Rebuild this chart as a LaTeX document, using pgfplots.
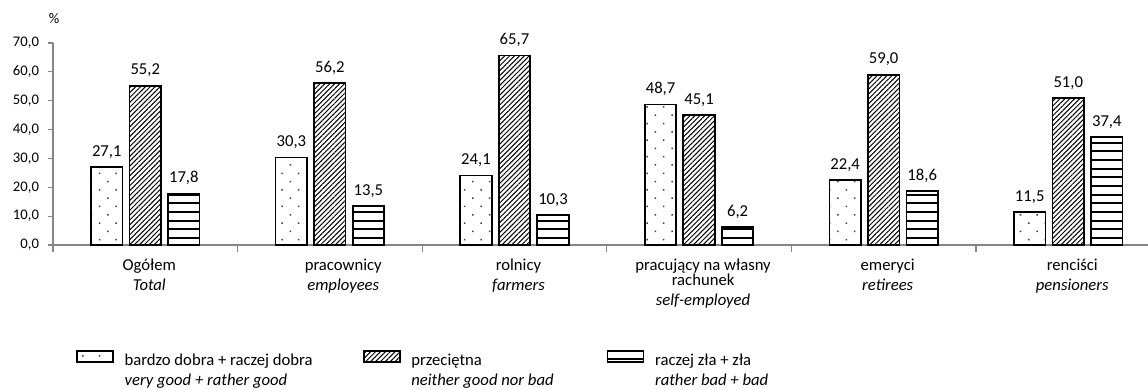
\documentclass[border=0pt]{standalone}
\usepackage{fontspec}
\setmainfont{Carlito}
\usepackage{pgfplots}
\pgfplotsset{compat=1.18}
\usetikzlibrary{patterns.meta}
\definecolor{axgray}{HTML}{868686}
\pgfdeclarepatternformonly{hthick}{\pgfpoint{-1pt}{0pt}}{\pgfpoint{201pt}{6.5pt}}{\pgfpoint{200pt}{6.5pt}}%
  {\pgfpathrectangle{\pgfpoint{-1pt}{2pt}}{\pgfpoint{202pt}{1.6pt}}\pgfusepath{fill}}
\newcommand\legtext[3]{\makebox[#1][l]{\begin{tabular}[t]{@{}l@{}}#2\\\textit{#3}\end{tabular}}}
\pgfplotsset{mylegend/.style={legend image code/.code={\draw[##1, bar shift=0pt] (0pt,-2pt) rectangle (27pt,6.25pt);}}}

\begin{document}
\begin{tikzpicture}
\path[use as bounding box] (-39.75pt,-108pt) rectangle (821.25pt,183.75pt);
\begin{axis}[
  at={(0,0)}, anchor=south west,
  scale only axis, width=821.25pt, height=151.5pt,
  xmin=-0.5, xmax=5.432, ymin=0, ymax=70,
  axis x line=bottom, axis y line=left,
  axis line style={axgray, -, line width=0.8pt},
  ybar, bar width=23.6pt,
  xtick={0,...,5},
  xticklabels={
    {Ogółem\\[3.5pt]\textit{Total}},
    {\hspace*{14pt}pracownicy\\[3.5pt]\hspace*{14pt}\textit{employees}},
    {rolnicy\\[3.5pt]\textit{farmers}},
    {pracujący na własny\\rachunek\\[3.5pt]\textit{self-employed}},
    {emeryci\\[3.5pt]\textit{retirees}},
    {renciści\\[3.5pt]\textit{pensioners}}},
  xticklabel style={align=center, anchor=north, font=\fontsize{12.5}{11.25}\selectfont, yshift=-3pt, xshift=3pt},
  major x tick style={draw=none},
  minor xtick={-0.5,0.5,...,4.5},
  minor x tick style={axgray, line width=0.8pt},
  tick align=outside,
  minor tick length=5pt,
  major tick length=4pt,
  ytick={0,10,...,70},
  y tick style={axgray, line width=0.8pt},
  yticklabel style={font=\fontsize{11}{13}\selectfont, xshift=-3pt},
  /pgf/number format/.cd, fixed, fixed zerofill, precision=1, use comma, assume math mode=true,
  /pgfplots/.cd,
  nodes near coords,
  nodes near coords style={font=\fontsize{12.5}{14}\selectfont, yshift=2.5pt},
  legend columns=3,
  legend style={at={(0.021,-0.52)}, anchor=north west, draw=none, fill=none,
    font=\fontsize{12.5}{15}\selectfont, inner sep=0pt, nodes={inner sep=0pt},
    /tikz/every odd column/.append style={column sep=8pt},
    /tikz/every even column/.append style={column sep=0pt}},
  legend cell align=left,
  clip=false,
]
\addplot[draw=black, line width=1.3pt, bar shift=-28.9pt,
  pattern={Dots[distance=8.8pt, radius=0.8pt, angle=45]}, pattern color=black!75, mylegend]
  coordinates {(0,27.1) (1,30.3) (2,24.1) (3,48.7) (4,22.4) (5,11.5)};
\addplot[draw=black, line width=1.3pt, bar shift=0pt,
  pattern={Lines[angle=45, distance=2.6pt, line width=0.75pt]}, pattern color=black, mylegend]
  coordinates {(0,55.2) (1,56.2) (2,65.7) (3,45.1) (4,59.0) (5,51.0)};
\addplot[draw=black, line width=1.3pt, bar shift=28.9pt,
  pattern=hthick, pattern color=black, mylegend]
  coordinates {(0,17.8) (1,13.5) (2,10.3) (3,6.2) (4,18.6) (5,37.4)};
\legend{\legtext{178.75pt}{bardzo dobra + raczej dobra}{very good + rather good},
        \legtext{146.5pt}{przeciętna}{neither good nor bad},
        \legtext{110pt}{raczej zła + zła}{rather bad + bad}}
\end{axis}
\node[font=\fontsize{11}{13}\selectfont] at (0.75pt,169.5pt) {\%};
\end{tikzpicture}
\end{document}
